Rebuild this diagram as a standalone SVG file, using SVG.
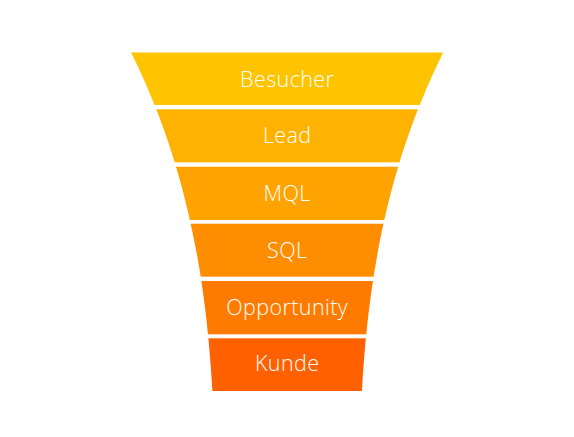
<svg xmlns="http://www.w3.org/2000/svg" width="574" height="437" viewBox="0 0 574 437">
  <style>
    .lbl { font-family: "Open Sans", Lato, "Liberation Sans", sans-serif; font-weight: 300; font-size: 21.5px; letter-spacing: 0.4px; fill: #ffffff; text-anchor: middle; }
  </style>
  <defs>
    <clipPath id="funnel">
      <path d="M131,52.3 C187,165 206,278 212.4,391 L361.9,391 C368.3,278 387.3,165 443.3,52.3 Z"/>
    </clipPath>
  </defs>
  <rect width="574" height="437" fill="#ffffff"/>
  <g clip-path="url(#funnel)">
    <g id="besucher">
      <rect x="100" y="52.3" width="374" height="52.7" fill="#FFC400"/>
      <text class="lbl" x="287.2" y="86.5">Besucher</text>
    </g>
    <g id="lead">
      <rect x="100" y="109.3" width="374" height="53" fill="#FFB300"/>
      <text class="lbl" x="287.2" y="142.5">Lead</text>
    </g>
    <g id="mql">
      <rect x="100" y="166.7" width="374" height="53.3" fill="#FFA300"/>
      <text class="lbl" x="287.2" y="200.5">MQL</text>
    </g>
    <g id="sql">
      <rect x="100" y="223.7" width="374" height="53" fill="#FF8D00"/>
      <text class="lbl" x="287.2" y="258">SQL</text>
    </g>
    <g id="opportunity">
      <rect x="100" y="281" width="374" height="53.3" fill="#FF7B00"/>
      <text class="lbl" x="287.2" y="315">Opportunity</text>
    </g>
    <g id="kunde">
      <rect x="100" y="338.3" width="374" height="52.7" fill="#FF6000"/>
      <text class="lbl" x="287.2" y="371">Kunde</text>
    </g>
  </g>
  <g id="connectors"/>
</svg>
